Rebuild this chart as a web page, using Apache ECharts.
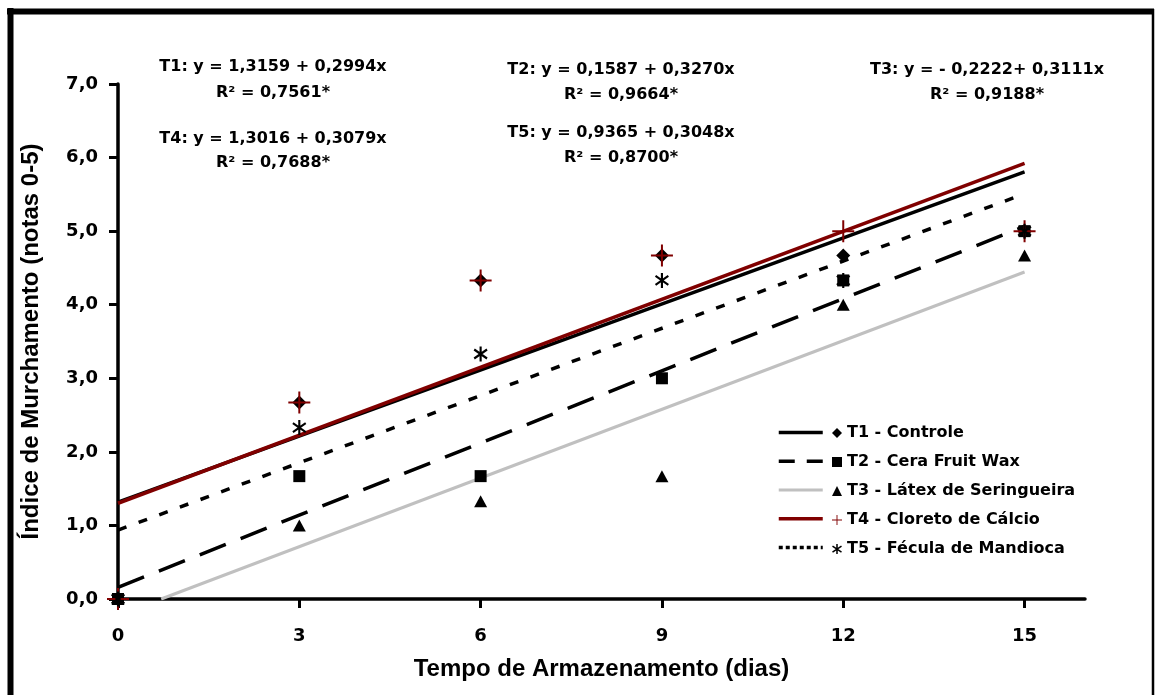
<!DOCTYPE html>
<html>
<head>
<meta charset="utf-8">
<title>Índice de Murchamento</title>
<script src="https://cdn.jsdelivr.net/npm/echarts@6.0.0/dist/echarts.min.js"></script>
<style>
html, body { margin: 0; padding: 0; background: #fff; }
#grafico { width: 1156px; height: 695px; }
</style>
</head>
<body>
<div id="grafico"></div>
<script>
// dados
var dias = [0, 3, 6, 9, 12, 15];
var xTicks = [0, 3, 6, 9, 12, 15];
var nomes = ['T1 - Controle', 'T2 - Cera Fruit Wax', 'T3 - Látex de Seringueira', 'T4 - Cloreto de Cálcio', 'T5 - Fécula de Mandioca'];

var t1 = [0, 2.67, 4.33, 4.67, 4.67, 5.0];
var t2 = [0, 1.67, 1.67, 3.0, 4.33, 5.0];
var t3 = [0, 1.0, 1.33, 1.67, 4.0, 4.67];
var t4 = [0, 2.67, 4.33, 4.67, 5.0, 5.0];
var t5 = [0, 2.33, 3.33, 4.33, 4.33, 5.0];

// coeficientes das regressões (y = a + b x)
var intercepto = [1.3159, 0.1587, -0.2222, 1.3016, 0.9365];
var inclinacao = [0.2994, 0.3270, 0.3111, 0.3079, 0.3048];

var equacoes = ['T1: y = 1,3159 + 0,2994x', 'T2: y = 0,1587 + 0,3270x', 'T3: y = - 0,2222+ 0,3111x', 'T4: y = 1,3016 + 0,3079x', 'T5: y = 0,9365 + 0,3048x'];
var r2 = ['R² = 0,7561*', 'R² = 0,9664*', 'R² = 0,9188*', 'R² = 0,7688*', 'R² = 0,8700*'];

var valores = [t1, t2, t3, t4, t5];

var cores = ['#000000', '#000000', '#c0c0c0', '#800000', '#000000'];
var tracos = ['solid', [28, 16], 'solid', 'solid', [9, 13]];
var tracosLegenda = ['solid', [16, 12], 'solid', 'solid', [4, 3]];
var larguras = [3.5, 3.5, 3, 3.5, 3.5];

var simbolos = [
    'diamond',
    'rect',
    'triangle',
    'path://M10,0h2v10h10v2h-10v10h-2v-10h-10v-2h10z',
    'path://M8.5,0h3v20h-3z M1.83,2.75L19.83,14.75L18.17,17.25L0.17,5.25z M19.83,5.25L1.83,17.25L0.17,14.75L18.17,2.75z'
];
var tamanhos = [14, 12, [13, 12], 22, [14, 15]];
var coresSimbolo = ['#000000', '#000000', '#000000', '#800000', '#000000'];

var fonteNum = '"DejaVu Sans", sans-serif';
var fonteTit = '"Liberation Sans", Arial, sans-serif';

var grafico = echarts.init(document.getElementById('grafico'));

var series = [];
var nomesLinhas = [];
for (var i = 0; i < 5; i++) {
    var a = intercepto[i], b = inclinacao[i];
    var x0 = Math.max(0, -a / b);
    var nomeLinha = 'linha ' + (i + 1);
    nomesLinhas.push({ name: nomeLinha, lineStyle: { type: tracosLegenda[i], width: larguras[i] } });
    series.push({
        name: nomeLinha,
        type: 'line',
        symbol: 'none',
        silent: true,
        data: [[x0, a + b * x0], [15, a + b * 15]],
        lineStyle: { color: cores[i], width: larguras[i], type: tracos[i] },
        itemStyle: { color: cores[i] },
        z: 2
    });
}
for (var j = 0; j < 5; j++) {
    series.push({
        name: nomes[j],
        type: 'scatter',
        symbol: simbolos[j],
        symbolSize: tamanhos[j],
        itemStyle: { color: coresSimbolo[j], opacity: 1 },
        data: dias.map(function (d, k) { return [d, valores[j][k]]; }),
        z: 3
    });
}

var textos = [];
var posEq = [[273, 67, 93], [621, 70, 95], [987, 70, 95], [273, 139, 163], [621, 133, 158]];
for (var e = 0; e < 5; e++) {
    textos.push({
        type: 'text', x: posEq[e][0], y: posEq[e][1], silent: true,
        style: { text: equacoes[e], font: 'bold 16px ' + fonteNum, fill: '#000', align: 'center', verticalAlign: 'middle' }
    });
    textos.push({
        type: 'text', x: posEq[e][0], y: posEq[e][2], silent: true,
        style: { text: r2[e], font: 'bold 16px ' + fonteNum, fill: '#000', align: 'center', verticalAlign: 'middle' }
    });
}
// moldura
textos.push({ type: 'line', silent: true, shape: { x1: 7, y1: 11.5, x2: 1154, y2: 11.5 }, style: { stroke: '#000', lineWidth: 6 } });
textos.push({ type: 'line', silent: true, shape: { x1: 10.5, y1: 8, x2: 10.5, y2: 700 }, style: { stroke: '#000', lineWidth: 6 } });
textos.push({ type: 'line', silent: true, shape: { x1: 1153, y1: 9, x2: 1153, y2: 700 }, style: { stroke: '#000', lineWidth: 2.5 } });

var option = {
    animation: false,
    backgroundColor: '#ffffff',
    grid: { left: 118, right: 71, top: 84, bottom: 96, containLabel: false },
    xAxis: {
        type: 'value',
        min: 0,
        max: 16,
        interval: 3,
        name: 'Tempo de Armazenamento (dias)',
        nameLocation: 'middle',
        nameGap: 58,
        nameTextStyle: { fontFamily: fonteTit, fontWeight: 'bold', fontSize: 24, color: '#000' },
        axisLine: { lineStyle: { color: '#000', width: 3.5 } },
        axisTick: { show: true, length: 9, lineStyle: { color: '#000', width: 3 }, customValues: xTicks },
        axisLabel: { customValues: xTicks, margin: 28, fontFamily: fonteNum, fontWeight: 'bold', fontSize: 18, color: '#000' },
        splitLine: { show: false }
    },
    yAxis: {
        type: 'value',
        min: 0,
        max: 7,
        interval: 1,
        name: 'Índice de Murchamento (notas 0-5)',
        nameLocation: 'middle',
        nameGap: 75,
        nameTextStyle: { fontFamily: fonteTit, fontWeight: 'bold', fontSize: 24, color: '#000' },
        axisLine: { show: true, lineStyle: { color: '#000', width: 3.5 } },
        axisTick: { show: true, length: 9, lineStyle: { color: '#000', width: 3 } },
        axisLabel: {
            margin: 20, fontFamily: fonteNum, fontWeight: 'bold', fontSize: 18, color: '#000',
            formatter: function (v) { return v.toFixed(1).replace('.', ','); }
        },
        splitLine: { show: false }
    },
    legend: [
        {
            orient: 'vertical',
            left: 777,
            top: 427,
            padding: 0,
            itemWidth: 44,
            itemHeight: 14,
            itemGap: 17.5,
            selectedMode: false,
            itemStyle: { opacity: 0, borderWidth: 0 },
            data: nomesLinhas,
            formatter: function () { return ''; },
            textStyle: { lineHeight: 14 }
        },
        {
            orient: 'vertical',
            left: 832,
            top: 425,
            padding: 0,
            itemWidth: 10,
            itemHeight: 10,
            itemGap: 13,
            itemStyle: { borderWidth: 0 },
            selectedMode: false,
            data: nomes,
            textStyle: { fontFamily: fonteNum, fontWeight: 'bold', fontSize: 16, color: '#000', lineHeight: 14 }
        }
    ],
    graphic: textos,
    series: series
};

grafico.setOption(option);
</script>
</body>
</html>
